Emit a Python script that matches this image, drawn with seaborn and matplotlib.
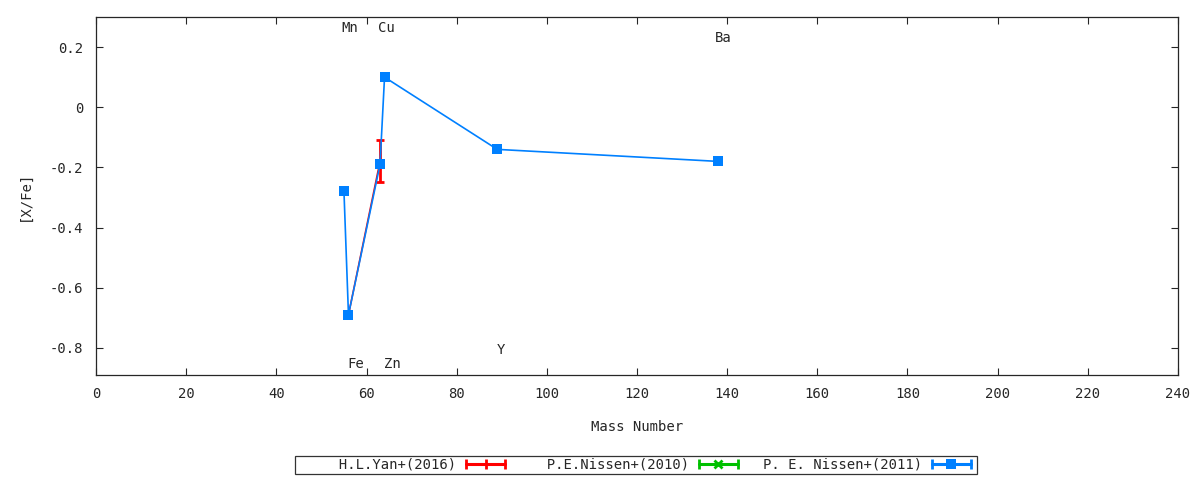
import matplotlib
matplotlib.use("Agg")
import matplotlib.pyplot as plt
import seaborn as sns
import pandas as pd
from matplotlib.lines import Line2D
from matplotlib.legend_handler import HandlerBase

# Data
yan_mass = [56, 63]
yan_xfe = [-0.69, -0.18]
yan_err = [0.0, 0.07]

nissen2010_mass = []
nissen2010_xfe = []

nissen2011_mass = [55, 56, 63, 64, 89, 138]
nissen2011_xfe = [-0.28, -0.69, -0.19, 0.10, -0.14, -0.18]

elem_names = ["Mn", "Cu", "Fe", "Zn", "Y", "Ba"]
elem_label_x = [54.4, 62.5, 55.8, 63.8, 88.8, 137.3]
elem_label_y = [0.265, 0.265, -0.855, -0.855, -0.808, 0.230]

series_labels = ["H.L.Yan+(2016)", "P.E.Nissen+(2010)", "P. E. Nissen+(2011)"]
series_colors = ["#ff0000", "#00c000", "#0080ff"]
series_markers = ["|", "x", "s"]

FS = 10.0
sns.set_style("ticks")
plt.rcParams["font.family"] = ["DejaVu Sans Mono"]
plt.rcParams["font.size"] = FS

fig = plt.figure(figsize=(12, 4.8), dpi=100)
ax = fig.add_axes([96/1200, 1-375/480, (1178-96)/1200, (375-17)/480])

df_yan = pd.DataFrame({"mass": yan_mass, "xfe": yan_xfe})
df_n11 = pd.DataFrame({"mass": nissen2011_mass, "xfe": nissen2011_xfe})

sns.lineplot(data=df_yan, x="mass", y="xfe", ax=ax, color=series_colors[0],
             linewidth=1.2, sort=False, legend=False)
ax.errorbar(yan_mass, yan_xfe, yerr=yan_err, fmt="none", ecolor=series_colors[0],
            elinewidth=2, capsize=3, capthick=2)
if nissen2010_mass:
    sns.lineplot(x=nissen2010_mass, y=nissen2010_xfe, ax=ax, color=series_colors[1],
                 marker="x", sort=False, legend=False)
sns.lineplot(data=df_n11, x="mass", y="xfe", ax=ax, color=series_colors[2],
             linewidth=1.2, marker="s", markersize=7, markeredgewidth=0,
             sort=False, legend=False)

for name, lx, ly in zip(elem_names, elem_label_x, elem_label_y):
    ax.text(lx, ly, name, ha="left", va="center", fontsize=FS)

ax.set_xlim(0, 240)
ax.set_ylim(-0.89, 0.3)
ax.set_xticks(range(0, 241, 20))
ax.set_yticks([0.2, 0, -0.2, -0.4, -0.6, -0.8])
ax.set_yticklabels(["0.2", "0", "-0.2", "-0.4", "-0.6", "-0.8"])
ax.tick_params(direction="in", top=True, right=True, length=5, width=0.8,
               labelsize=FS, pad=9)
for s in ax.spines.values():
    s.set_linewidth(0.9)
ax.set_xlabel("Mass Number", labelpad=13, fontsize=FS)
ax.set_ylabel("[X/Fe]", labelpad=13, fontsize=FS)


class HandlerErrLine(HandlerBase):
    def __init__(self, color, marker):
        super().__init__()
        self.color = color
        self.marker = marker

    def create_artists(self, legend, orig_handle, xdescent, ydescent, width,
                       height, fontsize, trans):
        y = height / 2 - ydescent
        x0, x1 = -xdescent + 2, -xdescent + width - 3
        line = Line2D([x0, x1], [y, y], color=self.color, lw=2.2)
        caps = Line2D([x0, x1], [y, y], color=self.color, ls="none",
                      marker="|", markersize=7, markeredgewidth=2)
        if self.marker == "s":
            center = Line2D([(x0 + x1) / 2], [y], color=self.color, ls="none",
                            marker="s", markersize=7, markeredgewidth=0)
        elif self.marker == "x":
            center = Line2D([(x0 + x1) / 2], [y], color=self.color, ls="none",
                            marker="x", markersize=6, markeredgewidth=2)
        else:
            center = Line2D([(x0 + x1) / 2], [y], color=self.color, ls="none",
                            marker="|", markersize=7, markeredgewidth=2)
        for a in (line, caps, center):
            a.set_transform(trans)
        return [line, caps, center]


handles = []
hmap = {}
for col, mk in zip(series_colors, series_markers):
    h = Line2D([0], [0], color=col)
    hmap[h] = HandlerErrLine(col, mk)
    handles.append(h)
width = max(len(s) for s in series_labels)
padded = [s.rjust(width) for s in series_labels]

leg = fig.legend(handles, padded, loc="center", bbox_to_anchor=(636/1200, 1-465/480),
                 ncol=3, frameon=True, fancybox=False, edgecolor="black", markerfirst=False,
                 handlelength=3.3, columnspacing=1.5, borderpad=0.15, handletextpad=0.5,
                 handler_map=hmap, fontsize=FS)
leg.get_frame().set_linewidth(0.9)

fig.savefig("out.png", dpi=100)
